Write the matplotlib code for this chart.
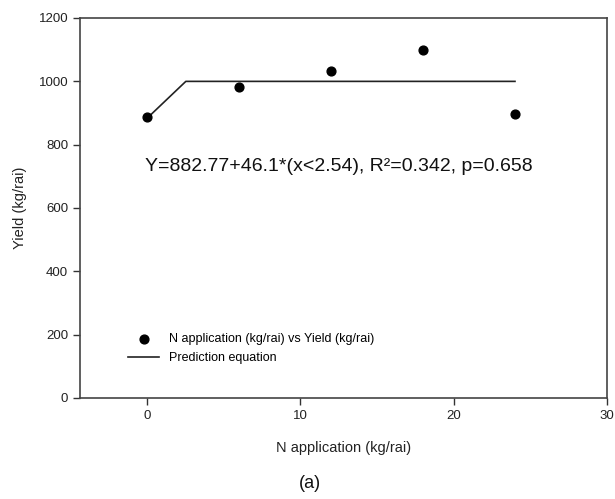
import numpy as np
import matplotlib.pyplot as plt

n_rate = [0, 6, 12, 18, 24]
yield_obs = [887, 981, 1032, 1098, 898]

# prediction line: linear-plateau, breakpoint at 2.54
pred_x = [0, 2.54, 24]
pred_y = [882.77, 999.86, 999.86]

x_ticks = [0, 10, 20, 30]
y_ticks = [0, 200, 400, 600, 800, 1000, 1200]

plt.rcParams['font.family'] = ['Liberation Sans', 'DejaVu Sans']

fig = plt.figure(figsize=(6.15, 4.99), dpi=100)
ax = fig.add_axes([80 / 615, 1 - 398 / 499, 527 / 615, 380 / 499])

ax.scatter(n_rate, yield_obs, s=40, color='black', zorder=3,
           label='N application (kg/rai) vs Yield (kg/rai)')
ax.plot(pred_x, pred_y, color='#222222', lw=1.2, label='Prediction equation')

ax.set_xlim(-4.36, 30)
ax.set_ylim(0, 1200)
ax.set_xticks(x_ticks)
ax.set_yticks(y_ticks)
ax.tick_params(direction='out', length=5, width=1, labelsize=9.5, colors='#333333',
               labelcolor='#222222')
for s in ax.spines.values():
    s.set_color('#444444')
    s.set_linewidth(1.2)

ax.set_xlabel('N application (kg/rai)', fontsize=10.5, color='#222222', labelpad=14)
ax.set_ylabel('Yield (kg/rai)', fontsize=10.5, color='#222222', labelpad=8)

ax.text(0.492, 0.608, 'Y=882.77+46.1*(x<2.54), R\u00b2=0.342, p=0.658',
        transform=ax.transAxes, ha='center', va='center', fontsize=14,
        color='#111111')

ax.legend(loc='lower left', bbox_to_anchor=(0.07, 0.06), frameon=False,
          fontsize=9, handlelength=2.5, handletextpad=0.8, labelspacing=0.55,
          scatterpoints=1)

fig.text(310 / 615, 1 - 483 / 499, '(a)', ha='center', va='center', fontsize=13,
         color='#111111')

fig.savefig('out.png', dpi=100)
